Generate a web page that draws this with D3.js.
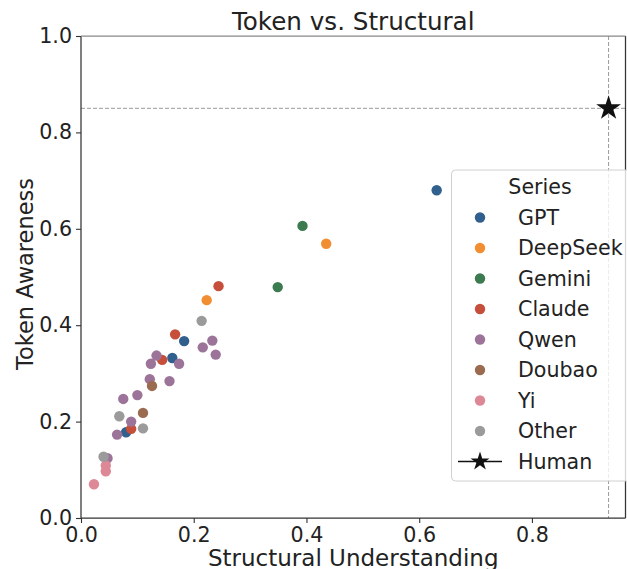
<!DOCTYPE html>
<html>
<head>
<meta charset="utf-8">
<script src="https://cdn.jsdelivr.net/npm/d3@7"></script>
<style>
  html, body { margin: 0; padding: 0; background: #fff; }
  svg { display: block; font-family: "DejaVu Sans", sans-serif; }
</style>
</head>
<body>
<svg id="chart" width="627" height="569"></svg>
<script>
// ---- data ----
const seriesNames = ["GPT", "DeepSeek", "Gemini", "Claude", "Qwen", "Doubao", "Yi", "Other"];
const seriesColors = ["#31608e", "#f28e32", "#3b7b4f", "#c64f3b", "#9c7499", "#9b6b50", "#dd8896", "#9b9b9b"];
const gptPoints = [[0.080, 0.178], [0.162, 0.332], [0.183, 0.367], [0.631, 0.680]];
const deepseekPoints = [[0.223, 0.452], [0.435, 0.569]];
const geminiPoints = [[0.349, 0.479], [0.393, 0.606]];
const claudePoints = [[0.089, 0.185], [0.144, 0.328], [0.167, 0.381], [0.244, 0.481]];
const qwenPoints = [[0.047, 0.124], [0.064, 0.173], [0.089, 0.200], [0.075, 0.247], [0.100, 0.255],
  [0.122, 0.288], [0.157, 0.284], [0.124, 0.320], [0.134, 0.337], [0.174, 0.320],
  [0.216, 0.354], [0.233, 0.368], [0.239, 0.339]];
const doubaoPoints = [[0.110, 0.218], [0.126, 0.274]];
const yiPoints = [[0.023, 0.070], [0.044, 0.109], [0.044, 0.097]];
const otherPoints = [[0.040, 0.127], [0.068, 0.211], [0.110, 0.186], [0.214, 0.409]];
const humanPoint = [0.936, 0.850];
const xTicks = [0.0, 0.2, 0.4, 0.6, 0.8];
const yTicks = [0.0, 0.2, 0.4, 0.6, 0.8, 1.0];
const xDomain = [0, 0.966];
const yDomain = [0, 1.0];
const titleText = "Token vs. Structural";
const xLabel = "Structural Understanding";
const yLabel = "Token Awareness";
const legendTitle = "Series";
const humanLabel = "Human";

const allSeries = [gptPoints, deepseekPoints, geminiPoints, claudePoints, qwenPoints, doubaoPoints, yiPoints, otherPoints];

// ---- layout ----
const svg = d3.select("#chart");
const L = 81, R = 625.5, T = 36, B = 518;
const x = d3.scaleLinear().domain(xDomain).range([L, R]);
const y = d3.scaleLinear().domain(yDomain).range([B, T]);
const axisColor = "#333";

// title
svg.append("text").attr("x", (L + R) / 2).attr("y", 30).attr("text-anchor", "middle")
  .attr("font-size", 24.6).attr("fill", "#222").text(titleText);

// reference dashed lines
svg.append("line").attr("x1", L).attr("x2", R).attr("y1", y(humanPoint[1])).attr("y2", y(humanPoint[1]))
  .attr("stroke", "#999").attr("stroke-width", 1).attr("stroke-dasharray", "4,2");
svg.append("line").attr("x1", x(humanPoint[0])).attr("x2", x(humanPoint[0])).attr("y1", T).attr("y2", B)
  .attr("stroke", "#999").attr("stroke-width", 1).attr("stroke-dasharray", "4,2");

// points
const pts = svg.append("g");
allSeries.forEach((arr, i) => {
  pts.selectAll(null).data(arr).enter().append("circle")
    .attr("cx", d => x(d[0])).attr("cy", d => y(d[1])).attr("r", 5.2)
    .attr("fill", seriesColors[i]);
});

// human star
const star = d3.symbol().type(d3.symbolStar).size(190);
svg.append("path").attr("d", star())
  .attr("transform", `translate(${x(humanPoint[0])},${y(humanPoint[1])})`)
  .attr("fill", "#111");

// axes
const xAxis = svg.append("g").attr("transform", `translate(0,${B})`)
  .call(d3.axisBottom(x).tickValues(xTicks).tickFormat(d3.format(".1f")).tickSize(5).tickPadding(3));
const yAxis = svg.append("g").attr("transform", `translate(${L},0)`)
  .call(d3.axisLeft(y).tickValues(yTicks).tickFormat(d3.format(".1f")).tickSize(5).tickPadding(4));
[xAxis, yAxis].forEach(g => {
  g.select(".domain").remove();
  g.selectAll(".tick line").attr("stroke", axisColor).attr("stroke-width", 1.1);
  g.selectAll(".tick text").attr("font-size", 20.6).attr("fill", "#222")
    .attr("font-family", "DejaVu Sans, sans-serif");
});
xAxis.selectAll(".tick text").attr("dy", "0.8em");

// spines
const sp = svg.append("g").attr("stroke", axisColor).attr("stroke-width", 1.25).attr("fill", "none");
sp.append("line").attr("x1", L).attr("x2", L).attr("y1", T).attr("y2", B);
sp.append("line").attr("x1", L).attr("x2", R).attr("y1", B).attr("y2", B);
sp.append("line").attr("x1", R).attr("x2", R).attr("y1", T).attr("y2", B);
sp.append("line").attr("x1", L).attr("x2", R).attr("y1", T).attr("y2", T).attr("stroke", "#888");

// axis labels
svg.append("text").attr("x", (L + R) / 2).attr("y", 566).attr("text-anchor", "middle")
  .attr("font-size", 23).attr("fill", "#222").text(xLabel);
svg.append("text").attr("transform", `translate(33,${(T + B) / 2 - 3}) rotate(-90)`)
  .attr("text-anchor", "middle").attr("font-size", 22.5).attr("fill", "#222").text(yLabel);

// legend
const lg = svg.append("g");
lg.append("rect").attr("x", 451.5).attr("y", 170).attr("width", 200).attr("height", 311)
  .attr("rx", 4).attr("fill", "#fff").attr("fill-opacity", 0.8).attr("stroke", "#d0d0d0");
lg.append("text").attr("x", 540).attr("y", 194).attr("text-anchor", "middle")
  .attr("font-size", 20.6).attr("fill", "#222").text(legendTitle);
const rowY = i => 217.5 + i * 30.5;
seriesNames.forEach((name, i) => {
  lg.append("circle").attr("cx", 480).attr("cy", rowY(i)).attr("r", 5.2).attr("fill", seriesColors[i]);
  lg.append("text").attr("x", 518).attr("y", rowY(i)).attr("dy", "0.36em")
    .attr("font-size", 20.6).attr("fill", "#222").text(name);
});
const hy = rowY(seriesNames.length);
lg.append("line").attr("x1", 458).attr("x2", 502).attr("y1", hy).attr("y2", hy)
  .attr("stroke", "#111").attr("stroke-width", 1.5);
lg.append("path").attr("d", d3.symbol().type(d3.symbolStar).size(110)())
  .attr("transform", `translate(480,${hy})`).attr("fill", "#111");
lg.append("text").attr("x", 518).attr("y", hy).attr("dy", "0.36em")
  .attr("font-size", 20.6).attr("fill", "#222").text(humanLabel);
</script>
</body>
</html>
